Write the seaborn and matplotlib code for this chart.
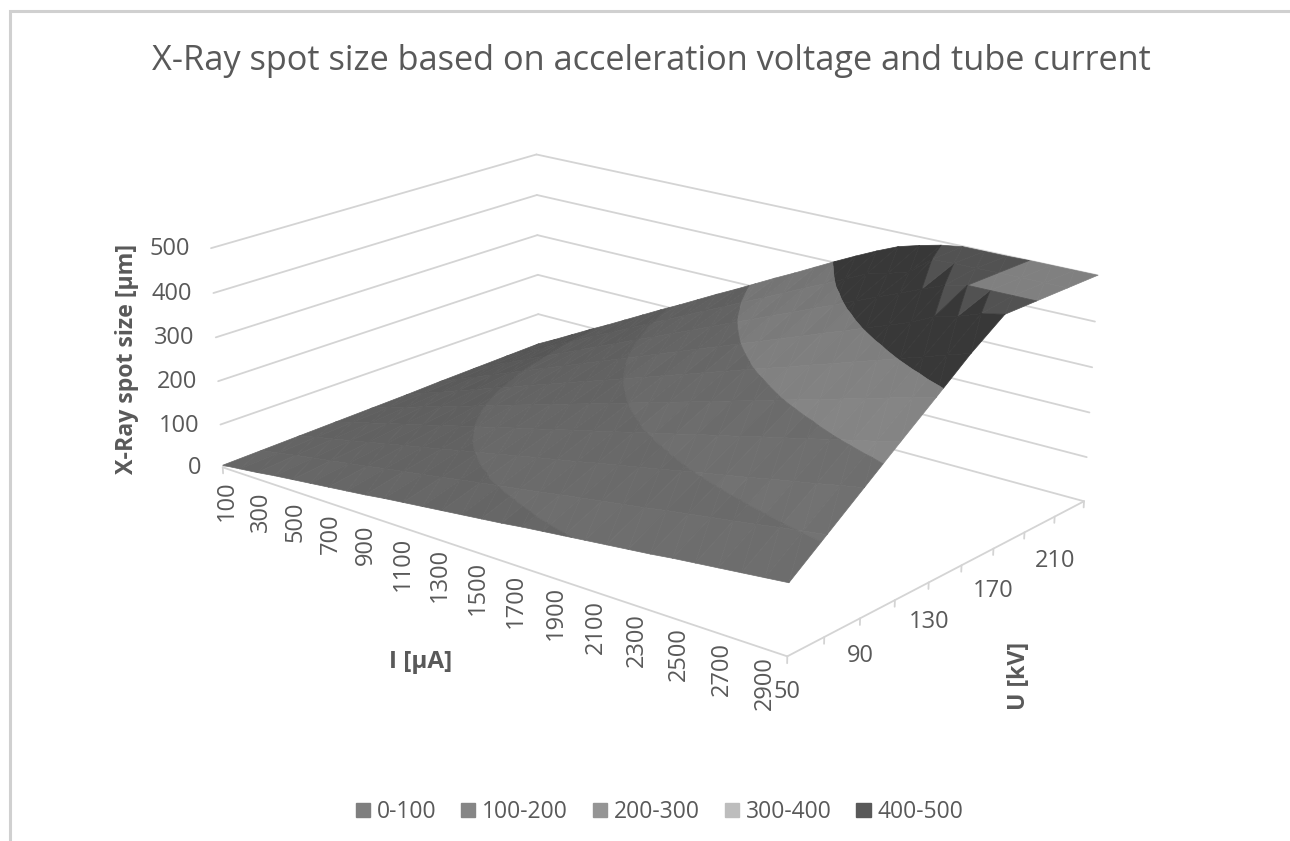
import numpy as np
import seaborn as sns
import matplotlib.pyplot as plt
from matplotlib.patches import Patch, Rectangle
from mpl_toolkits.mplot3d.art3d import Poly3DCollection

current = [100, 200, 300, 400, 500, 600, 700, 800, 900, 1000, 1100, 1200, 1300, 1400, 1500,
           1600, 1700, 1800, 1900, 2000, 2100, 2200, 2300, 2400, 2500, 2600, 2700, 2800, 2900]
current_labels = [100, 300, 500, 700, 900, 1100, 1300, 1500, 1700, 1900, 2100, 2300, 2500, 2700, 2900]
voltage = [50, 70, 90, 110, 130, 150, 170, 190, 210, 230]
voltage_labels = [50, 90, 130, 170, 210]
size_ticks = [0, 100, 200, 300, 400, 500]

# spot size in um, one row per voltage
u50 = [5, 10, 15, 21, 26, 31, 36, 41, 46, 52, 57, 62, 67, 72, 77,
       82, 88, 93, 98, 103, 108, 113, 118, 124, 129, 134, 139, 144, 149]
u70 = [7, 14, 22, 29, 36, 43, 50, 58, 65, 72, 79, 87, 94, 101, 108,
       115, 123, 130, 137, 144, 151, 159, 166, 173, 180, 187, 195, 202, 209]
u90 = [9, 19, 28, 37, 46, 56, 65, 74, 83, 93, 102, 111, 121, 130, 139,
       148, 158, 167, 176, 185, 195, 204, 213, 222, 232, 241, 250, 260, 269]
u110 = [11, 23, 34, 45, 57, 68, 79, 91, 102, 113, 125, 136, 147, 159, 170,
        181, 193, 204, 215, 227, 238, 249, 261, 272, 283, 295, 306, 317, 329]
u130 = [13, 27, 40, 54, 67, 80, 94, 107, 121, 134, 147, 161, 174, 187, 201,
        214, 228, 241, 254, 268, 281, 295, 308, 321, 335, 348, 362, 375, 388]
u150 = [15, 31, 46, 62, 77, 93, 108, 124, 139, 155, 170, 185, 201, 216, 232,
        247, 263, 278, 294, 309, 324, 340, 355, 371, 386, 402, 417, 433, 448]
u170 = [18, 35, 53, 70, 88, 105, 123, 140, 158, 175, 193, 210, 228, 245, 263,
        280, 298, 315, 333, 350, 368, 385, 403, 420, 438, 461, 473, 490, 500]
u190 = [20, 39, 59, 78, 98, 117, 137, 157, 176, 196, 215, 235, 254, 274, 294,
        313, 333, 352, 372, 391, 411, 431, 450, 470, 489, 500, 500, 500, 500]
u210 = [22, 43, 65, 87, 108, 130, 151, 173, 195, 216, 238, 260, 281, 303, 324,
        346, 368, 389, 411, 433, 445, 459, 497, 499, 499, 500, 500, 500, 500]
u230 = [24, 47, 71, 95, 118, 142, 166, 190, 213, 237, 261, 284, 308, 332, 355,
        379, 403, 426, 448, 468, 481, 492, 499, 499, 499, 500, 500, 500, 500]
spot = [u50, u70, u90, u110, u130, u150, u170, u190, u210, u230]

band_names = ["0-100", "100-200", "200-300", "300-400", "400-500"]
band_edges = [0, 100, 200, 300, 400, 500]
legend_colors = ["#7f7f7f", "#868686", "#959595", "#bdbdbd", "#595959"]
surface_colors = ["#626262", "#696969", "#6f6f6f", "#888888", "#383838"]
text_col = "#595959"
grid_col = "#d4d4d4"

sns.set_theme(style="white")
plt.rcParams["font.family"] = ["Open Sans", "DejaVu Sans"]
W, H = 1290, 841
fig = plt.figure(figsize=(W / 100, H / 100), dpi=100)


def fit_view():
    # excel's perspective box: corners of the chart box -> picture pixels
    world = [(100, 50, 0), (2900, 50, 0), (2900, 230, 0), (100, 230, 0),
             (100, 230, 500), (2900, 230, 500), (100, 50, 500)]
    pixels = [(224, 467), (787, 657), (1085, 500), (537, 354),
              (538, 154), (1097, 276), (210, 248)]
    s = np.diag([1 / 2900, 1 / 230, 1 / 500, 1])
    rows, rhs = [], []
    for (a, b, c), (u, v) in zip(world, pixels):
        x, y, z = a / 2900, b / 230, c / 500
        rows.append([x, y, z, 1, 0, 0, 0, 0, -u * x, -u * y, -u * z])
        rows.append([0, 0, 0, 0, x, y, z, 1, -v * x, -v * y, -v * z])
        rhs += [u, v]
    p = np.linalg.lstsq(np.array(rows), np.array(rhs, float), rcond=None)[0]
    m = np.array([p[:4], p[4:8], [0.3, 0.5, 0.7, 0.1], [p[8], p[9], p[10], 1]])
    return m @ s


M = fit_view()


def to_px(i, u, z):
    v = M @ np.array([i, u, z, 1.0])
    return v[0] / v[3], v[1] / v[3]


def px_text(x, y, s, **kw):
    kw.setdefault("color", text_col)
    fig.text(x / W, 1 - y / H, s, **kw)


# square axes in figure pixels, so the 2d axes space is the picture's pixel space
ax = fig.add_axes([0, (H - W) / 2 / H, 1, W / H], projection="3d", computed_zorder=False)
ax.set_proj_type("ortho")
ax.get_proj = lambda: M
ax.set_axis_off()
ax.patch.set_visible(False)
ax.viewLim.intervalx = (0, W)
ax.viewLim.intervaly = ((H + W) / 2, (H - W) / 2)

i0, i1, u0, u1 = current[0], current[-1], voltage[0], voltage[-1]
line = dict(color=grid_col, lw=1.3, zorder=1)
for z in size_ticks:
    ax.plot([i0, i0], [u0, u1], [z, z], **line)
    ax.plot([i0, i1], [u1, u1], [z, z], **line)
ax.plot([i0, i1], [u0, u0], [0, 0], **line)
ax.plot([i1, i1], [u0, u1], [0, 0], **line)
for u in voltage:
    ax.plot([i1, i1], [u, u], [0, -14], **line)
ax.plot([i0, i0], [u0, u0], [0, -14], **line)


def clip_band(tri, lo, hi):
    # cut a triangle to the part between two spot sizes
    poly = list(tri)
    for limit, sign in ((lo, 1), (hi, -1)):
        out = []
        for k, p in enumerate(poly):
            q = poly[(k + 1) % len(poly)]
            dp, dq = sign * (p[2] - limit), sign * (q[2] - limit)
            if dp >= 0:
                out.append(p)
            if dp * dq < 0:
                t = dp / (dp - dq)
                out.append(tuple(p[n] + t * (q[n] - p[n]) for n in range(3)))
        poly = out
        if not poly:
            break
    return poly


def lit(color, r, c):
    # back of the surface catches less light, columns give the faint streaks
    rgb = np.array(sns.color_palette([color])[0])
    return tuple(rgb * (1.04 - 0.2 * r / 9 + 0.006 * (-1) ** c))


verts, faces = [], []
for r in range(len(voltage) - 1):
    for c in range(len(current) - 1):
        a = (current[c], voltage[r], spot[r][c])
        b = (current[c + 1], voltage[r], spot[r][c + 1])
        d = (current[c + 1], voltage[r + 1], spot[r + 1][c + 1])
        e = (current[c], voltage[r + 1], spot[r + 1][c])
        cell_flat = all(p[2] == 500 for p in (a, b, d, e))
        # the two triangle kinds turn lighter at different heights near the cap
        for tri, near_cap in (((a, b, e), 489), ((b, d, e), 460)):
            if cell_flat:
                verts.append(tri)
                faces.append("#808080")
                continue
            if min(p[2] for p in tri) >= near_cap:
                verts.append(tri)
                faces.append("#525252")
                continue
            for n in range(5):
                poly = clip_band(tri, band_edges[n], band_edges[n + 1])
                if len(poly) >= 3:
                    verts.append(poly)
                    faces.append(surface_colors[n] if n == 4 else lit(surface_colors[n], r, c))

surf = Poly3DCollection(verts, facecolors=faces, edgecolors=faces, linewidths=0.5, zorder=3)
ax.add_collection3d(surf, autolim=False)

# tick labels
for z in size_ticks:
    x, y = to_px(i0, u0, z)
    px_text(x - 21, y + 1, str(z), ha="right", va="center", fontsize=17)
for n, i in enumerate(current_labels):
    t = n / (len(current_labels) - 1)
    x, y = to_px(i, u0, 0)
    px_text(x + 4 - 8 * t - 18 * t ** 2, y + 13 - 13 * t, str(i), rotation=90, ha="center", va="top",
            fontsize=17)
for u in voltage_labels:
    x, y = to_px(i1, u, 0)
    px_text(x, y + 36 + 0.05 * (u - 50), str(u), ha="center", va="center", fontsize=17)

px_text(651, 61, "X-Ray spot size based on acceleration voltage and tube current",
        ha="center", va="center", fontsize=24.75)
px_text(127, 359, "X-Ray spot size [µm]", rotation=90, ha="center", va="center",
        fontsize=16.7, fontweight="bold")
px_text(421, 662, "I [µA]", ha="center", va="center", fontsize=17.5, fontweight="bold")
px_text(1019, 676, "U [kV]", rotation=90, ha="center", va="center", fontsize=16.7, fontweight="bold")

handles = [Patch(color=c, label=b) for c, b in zip(sns.color_palette(legend_colors), band_names)]
fig.legend(handles=handles, loc="center", bbox_to_anchor=(659.5 / W, 1 - 812 / H), ncol=5,
           frameon=False, fontsize=16.5, labelcolor=text_col, handlelength=0.62, handleheight=0.62,
           handletextpad=0.3, columnspacing=1.08)

# outer frame of the screenshot
fig.add_artist(Rectangle((9.5 / W, -0.01), 1.1, 1 - 11 / H + 0.01, transform=fig.transFigure,
                         fill=False, ec="#d0d0d0", lw=2.2))

fig.savefig("out.png", dpi=100)
